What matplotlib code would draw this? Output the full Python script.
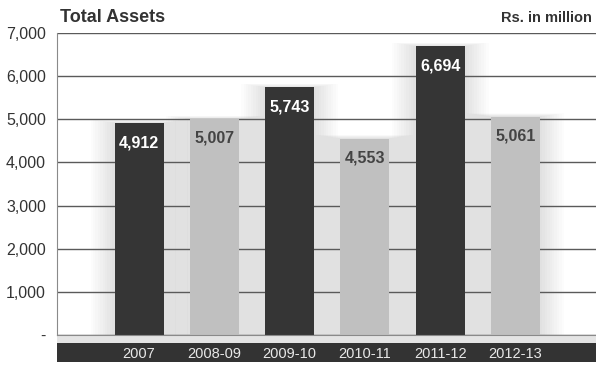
import matplotlib.pyplot as plt
from matplotlib.patches import Rectangle

years = ['2007', '2008-09', '2009-10', '2010-11', '2011-12', '2012-13']
assets = [4912, 5007, 5743, 4553, 6694, 5061]
yticks = [0, 1000, 2000, 3000, 4000, 5000, 6000, 7000]
ytick_labels = ['-', '1,000', '2,000', '3,000', '4,000', '5,000', '6,000', '7,000']

dark = '#353535'
light = '#c0c0c0'
colors = [dark if i % 2 == 0 else light for i in range(len(years))]

plt.rcParams['font.family'] = ['Liberation Sans', 'DejaVu Sans']

W, H = 596, 365
fig = plt.figure(figsize=(W / 100, H / 100), dpi=100)
ax = fig.add_axes([57 / W, 30 / H, 539 / W, 302 / H])

x = list(range(len(years)))
width = 0.65
px = 1 / 75.3  # one pixel in x data units

# soft halo behind each bar
for xi, v in zip(x, assets):
    for k in range(10, 0, -1):
        pad = k * 2.4 * px
        ax.add_patch(Rectangle((xi - width / 2 - pad, 0), width + 2 * pad, v + k * 8,
                               facecolor='#808080', edgecolor='none', alpha=0.022,
                               zorder=0.5))

ax.bar(x, assets, width=width, color=colors, zorder=2)

for xi, v, c in zip(x, assets, colors):
    ax.annotate(f'{v:,}', (xi, v), xytext=(0, -14), textcoords='offset points',
                ha='center', va='center', fontsize=11.5, fontweight='bold',
                color='white' if c == dark else '#444444', zorder=3)

ax.set_xlim(-1.09, 6.07)
ax.set_ylim(0, 7000)
ax.set_yticks(yticks)
ax.set_yticklabels(ytick_labels)
ax.grid(axis='y', color='#5a5a5a', linewidth=1)
for gl in ax.get_ygridlines():
    gl.set_zorder(1)

ax.set_xticks(x)
ax.set_xticklabels(years)
ax.tick_params(axis='x', length=0, pad=9, labelsize=10.5, colors='#e8e8e8')
ax.tick_params(axis='y', length=0, pad=8, labelsize=11.5, colors='#333333')

for s in ['right', 'top']:
    ax.spines[s].set_visible(False)
ax.spines['left'].set_color('#8a8a8a')
ax.spines['bottom'].set_color('#8a8a8a')

# dark band under the axis holding the category labels
ax.add_patch(Rectangle((0, -27 / 302), 1, 19 / 302, transform=ax.transAxes,
                       facecolor='#333333', edgecolor='none', clip_on=False, zorder=0))
ax.add_patch(Rectangle((0, -8 / 302), 1, 7 / 302, transform=ax.transAxes,
                       facecolor='#e4e4e4', edgecolor='none', clip_on=False, zorder=0))

fig.text(60 / W, 1 - 18 / H, 'Total Assets', fontsize=13, fontweight='bold',
         color='#333333', va='center', ha='left')
fig.text(592 / W, 1 - 18 / H, 'Rs. in million', fontsize=10.5, fontweight='bold',
         color='#333333', va='center', ha='right')

fig.savefig('out.png', dpi=100)
